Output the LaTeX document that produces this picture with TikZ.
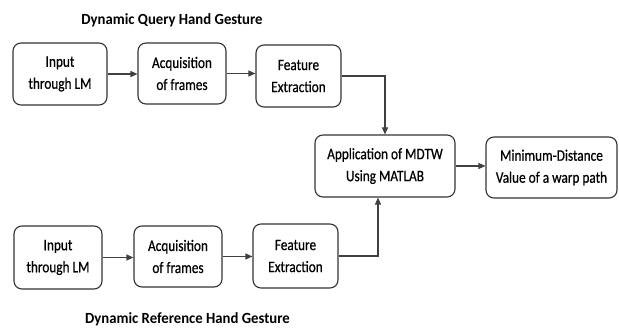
\documentclass[tikz,border=0pt]{standalone}
\usepackage{fontspec}
\setmainfont[FakeStretch=0.83]{Carlito}
\newfontfamily\boxfont[FakeStretch=0.83,FakeBold=0.6]{Carlito}
\newfontfamily\ttlfont[FakeStretch=0.95]{Carlito}
\usetikzlibrary{arrows.meta}
\begin{document}
\begin{tikzpicture}[x=1pt,y=-1pt,
  box/.style={draw=black!80, line width=1.1pt, rounded corners=8pt, align=center,
    font=\boxfont\fontsize{16}{22}\selectfont, inner sep=0pt},
  conn/.style={draw=black!75, line width=1.1pt, -{Triangle[length=7pt,width=6pt]}},
  ttl/.style={font=\ttlfont\bfseries\fontsize{15.5}{18}\selectfont, inner sep=0pt, anchor=base}]
\useasboundingbox (0,0) rectangle (619,328);
\node[ttl] (t1) at (172,25) {Dynamic Query Hand Gesture};
\node[ttl] (t2) at (187.5,324) {Dynamic Reference Hand Gesture};
\node[box, minimum width=94pt, minimum height=62pt] (q1) at (60,74) {Input\\through LM};
\node[box, minimum width=88pt, minimum height=61pt] (q2) at (182,73.5) {Acquisition\\of frames};
\node[box, minimum width=85pt, minimum height=62pt] (q3) at (298.5,76) {Feature\\Extraction};
\node[box, minimum width=140pt, minimum height=62pt] (m) at (385,166) {Application of MDTW\\Using MATLAB};
\node[box, minimum width=131pt, minimum height=61pt] (f) at (551.5,167.5) {Minimum-Distance\\Value of a warp path};
\node[box, minimum width=88pt, minimum height=63pt] (r1) at (58,257.5) {Input\\through LM};
\node[box, minimum width=88pt, minimum height=61pt] (r2) at (178,256.5) {Acquisition\\of frames};
\node[box, minimum width=85pt, minimum height=64pt] (r3) at (295.5,256) {Feature\\Extraction};
\draw[conn] (q1.east) -- (q1.east -| q2.west);
\draw[conn] (q2.east) -- (q2.east -| q3.west);
\draw[conn] (q3.east) -| (m.north);
\draw[conn] (m.east) -- (m.east -| f.west);
\draw[conn] (r1.east) -- (r1.east -| r2.west);
\draw[conn] (r2.east) -- (r2.east -| r3.west);
\draw[conn] (r3.east) -| ([xshift=-7pt]m.south);
\end{tikzpicture}
\end{document}
